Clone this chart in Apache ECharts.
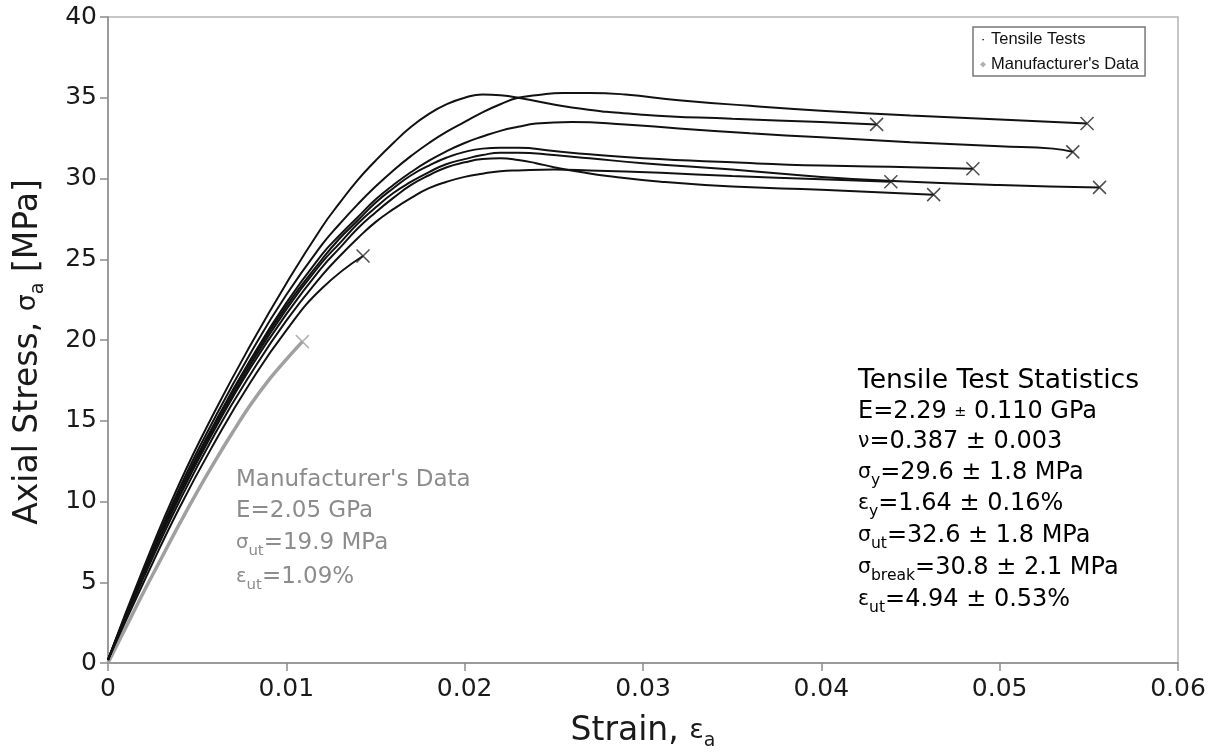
<!DOCTYPE html>
<html><head><meta charset="utf-8">
<script src="https://cdn.jsdelivr.net/npm/echarts@6/dist/echarts.min.js"></script>
<style>html,body{margin:0;padding:0;background:#fff}#c{width:1217px;height:756px}</style>
</head><body><div id="c"></div>
<script>
// ---- axis ranges / ticks ----
const strainTicks = [0, 0.01, 0.02, 0.03, 0.04, 0.05, 0.06];
const stressTicks = [0, 5, 10, 15, 20, 25, 30, 35, 40];

// ---- tensile test curves [strain, stress MPa] (last point = break) ----
const testA = [[0,0.2],[0.002,5.9],[0.004,11.1],[0.006,15.6],[0.008,19.7],[0.010,23.5],[0.012,27.0],[0.013,28.5],[0.014,29.9],[0.015,31.1],[0.016,32.2],[0.017,33.2],[0.018,34.0],[0.019,34.6],[0.020,35.0],[0.021,35.2],[0.022,35.15],[0.023,35.0],[0.026,34.4],[0.030,33.95],[0.035,33.7],[0.040,33.5],[0.0431,33.35]];
const testB = [[0,0.2],[0.002,5.7],[0.004,10.8],[0.006,15.2],[0.008,19.2],[0.010,22.8],[0.012,25.9],[0.013,27.2],[0.014,28.4],[0.015,29.5],[0.016,30.5],[0.017,31.4],[0.018,32.2],[0.019,32.9],[0.020,33.5],[0.021,34.1],[0.022,34.6],[0.023,35.0],[0.024,35.15],[0.0255,35.3],[0.027,35.3],[0.029,35.2],[0.032,34.85],[0.036,34.5],[0.040,34.2],[0.045,33.9],[0.050,33.65],[0.0549,33.4]];
const testC = [[0,0.2],[0.002,5.6],[0.004,10.6],[0.006,14.9],[0.008,18.8],[0.010,22.3],[0.012,25.3],[0.013,26.5],[0.014,27.6],[0.015,28.7],[0.016,29.6],[0.017,30.4],[0.018,31.1],[0.019,31.7],[0.020,32.2],[0.021,32.6],[0.022,32.95],[0.023,33.2],[0.024,33.4],[0.026,33.5],[0.029,33.35],[0.032,33.1],[0.036,32.8],[0.040,32.55],[0.045,32.25],[0.050,32.0],[0.053,31.85],[0.0541,31.65]];
const testD = [[0,0.2],[0.002,5.6],[0.004,10.5],[0.006,14.8],[0.008,18.7],[0.010,22.1],[0.012,25.0],[0.013,26.3],[0.014,27.4],[0.015,28.5],[0.016,29.4],[0.017,30.2],[0.018,30.8],[0.019,31.3],[0.020,31.65],[0.021,31.85],[0.022,31.9],[0.023,31.9],[0.025,31.7],[0.027,31.5],[0.030,31.25],[0.035,31.0],[0.040,30.8],[0.045,30.7],[0.0485,30.6]];
const testE = [[0,0.2],[0.002,5.5],[0.004,10.3],[0.006,14.5],[0.008,18.3],[0.010,21.6],[0.012,24.5],[0.013,25.7],[0.014,26.9],[0.015,27.9],[0.016,28.8],[0.017,29.6],[0.018,30.2],[0.019,30.7],[0.020,31.0],[0.021,31.2],[0.022,31.25],[0.023,31.15],[0.024,30.95],[0.025,30.7],[0.0265,30.4],[0.028,30.15],[0.031,29.8],[0.035,29.5],[0.040,29.3],[0.0463,29.0]];
const testF = [[0,0.2],[0.002,5.5],[0.004,10.3],[0.006,14.6],[0.008,18.5],[0.010,21.9],[0.012,24.8],[0.013,26.0],[0.014,27.2],[0.015,28.2],[0.016,29.1],[0.017,29.8],[0.018,30.4],[0.019,30.9],[0.020,31.2],[0.021,31.45],[0.022,31.6],[0.023,31.6],[0.025,31.45],[0.027,31.25],[0.030,30.95],[0.035,30.55],[0.040,30.1],[0.044,29.85],[0.050,29.6],[0.0556,29.45]];
const testG = [[0,0.2],[0.002,5.3],[0.004,10.0],[0.006,14.2],[0.008,17.9],[0.010,21.2],[0.012,24.0],[0.013,25.2],[0.014,26.3],[0.015,27.3],[0.016,28.1],[0.017,28.8],[0.018,29.4],[0.019,29.8],[0.020,30.1],[0.021,30.3],[0.022,30.45],[0.023,30.5],[0.025,30.55],[0.027,30.5],[0.031,30.35],[0.035,30.15],[0.040,29.95],[0.0439,29.8]];
const testH = [[0,0.2],[0.002,5.0],[0.004,9.6],[0.006,13.7],[0.008,17.4],[0.010,20.6],[0.012,23.2],[0.0143,25.2]];

// ---- manufacturer's data ----
const mfr = [[0,0],[0.001,2.2],[0.002,4.4],[0.003,6.5],[0.004,8.6],[0.005,10.6],[0.006,12.5],[0.007,14.3],[0.008,16.0],[0.009,17.5],[0.010,18.8],[0.0109,19.9]];

const tests = [testA, testB, testC, testD, testE, testF, testG, testH];
const TEST_NAME = 'Tensile Tests';
const MFR_NAME = "Manufacturer's Data";

// ---- annotation texts ----
const statLines = [
  '{h|Tensile Test Statistics}',
  '{t|E=2.29 }{pm|±}{t| 0.110 GPa}',
  '{g|ν}{t|=0.387 ± 0.003}',
  '{g|σ}{sub|y}{t|=29.6 ± 1.8 MPa}',
  '{g|ε}{sub|y}{t|=1.64 ± 0.16%}',
  '{g|σ}{sub|ut}{t|=32.6 ± 1.8 MPa}',
  '{g|σ}{sub|break}{t|=30.8 ± 2.1 MPa}',
  '{g|ε}{sub|ut}{t|=4.94 ± 0.53%}'
];
const mfrLines = [
  "{t|Manufacturer's Data}",
  '{t|E=2.05 GPa}',
  '{g|σ}{sub|ut}{t|=19.9 MPa}',
  '{g|ε}{sub|ut}{t|=1.09%}'
];

const FONT = 'DejaVu Sans';
function richFor(color, size) {
  return {
    h: {fontFamily: FONT, fontSize: size * 1.11, fill: color, lineHeight: 32},
    t: {fontFamily: FONT, fontSize: size, fill: color, lineHeight: 32},
    pm: {fontFamily: FONT, fontSize: size * 0.6, fill: color, lineHeight: 32},
    g: {fontFamily: FONT, fontSize: size * 0.85, fill: color, lineHeight: 32},
    sub: {fontFamily: FONT, fontSize: size * 0.65, fill: color, lineHeight: 15, verticalAlign: 'bottom'}
  };
}

const chart = echarts.init(document.getElementById('c'), null, {renderer: 'canvas'});

const series = [];
tests.forEach(function (d) {
  series.push({
    name: TEST_NAME, type: 'line', data: d, smooth: 0.5, showSymbol: false,
    lineStyle: {color: '#111', width: 2}, itemStyle: {color: '#111'}, z: 3, silent: true
  });
});
series.push({
  name: MFR_NAME, type: 'line', data: mfr, smooth: 0.4, showSymbol: false,
  lineStyle: {color: '#a0a0a0', width: 3.5}, itemStyle: {color: '#b0b0b0'}, z: 2, silent: true
});
const XSYM = 'path://M0,0L10,10M10,0L0,10';
series.push({
  name: TEST_NAME, type: 'scatter', symbol: XSYM, symbolSize: 13,
  data: tests.map(function (d) { return d[d.length - 1]; }),
  itemStyle: {color: 'none', borderColor: '#222', borderWidth: 1.5}, z: 4, silent: true
});
series.push({
  name: MFR_NAME, type: 'scatter', symbol: XSYM, symbolSize: 13,
  data: [mfr[mfr.length - 1]],
  itemStyle: {color: 'none', borderColor: '#a0a0a0', borderWidth: 1.5}, z: 4, silent: true
});

const graphics = [];
const statY = [381, 412, 442, 473, 504, 536, 568, 600];
statLines.forEach(function (s, i) {
  graphics.push({type: 'text', x: 858, y: statY[i], silent: true,
    style: {text: s, rich: richFor('#000', 24), verticalAlign: 'middle', align: 'left'}});
});
const mfrY = [480, 511, 543, 577];
mfrLines.forEach(function (s, i) {
  graphics.push({type: 'text', x: 236, y: mfrY[i], silent: true,
    style: {text: s, rich: richFor('#8c8c8c', 23), verticalAlign: 'middle', align: 'left'}});
});

const axisLineStyle = {color: '#8c8c8c', width: 1.5};
const nameRich = {
  g: {fontFamily: FONT, fontSize: 27, color: '#1a1a1a', lineHeight: 40},
  sub: {fontFamily: FONT, fontSize: 19, color: '#1a1a1a', lineHeight: 19, verticalAlign: 'bottom'}
};

chart.setOption({
  animation: false,
  backgroundColor: '#fff',
  grid: {left: 107, right: 39, top: 17, bottom: 89, show: true, borderColor: '#b4b4b4', borderWidth: 1.5, containLabel: false},
  legend: {
    orient: 'vertical', left: 973, top: 27, padding: [3, 6, 2, 7], itemGap: 6,
    itemWidth: 6, itemHeight: 6, borderColor: '#777', borderWidth: 1.5, backgroundColor: '#fff',
    textStyle: {fontFamily: 'Liberation Sans', fontSize: 16.5, color: '#111', lineHeight: 19},
    data: [
      {name: TEST_NAME, icon: 'path://M0,0M10,10M4,4h2.4v2.4h-2.4z'},
      {name: MFR_NAME, icon: 'diamond'}
    ],
    selectedMode: false
  },
  xAxis: {
    type: 'value', min: strainTicks[0], max: strainTicks[strainTicks.length - 1], interval: strainTicks[1] - strainTicks[0],
    axisLine: {lineStyle: axisLineStyle}, axisTick: {show: true, length: 8, lineStyle: axisLineStyle},
    splitLine: {show: false},
    axisLabel: {fontFamily: FONT, fontSize: 25, color: '#1a1a1a', margin: 14,
      formatter: function (v) { return v === 0 ? '0' : v.toFixed(2); }},
    name: 'Strain, {g|ε}{sub|a}', nameLocation: 'middle', nameGap: 48,
    nameTextStyle: {fontFamily: FONT, fontSize: 33, color: '#1a1a1a', lineHeight: 40, rich: nameRich}
  },
  yAxis: {
    type: 'value', min: stressTicks[0], max: stressTicks[stressTicks.length - 1], interval: stressTicks[1] - stressTicks[0],
    axisLine: {lineStyle: axisLineStyle}, axisTick: {show: true, length: 8, lineStyle: axisLineStyle},
    splitLine: {show: false},
    axisLabel: {fontFamily: FONT, fontSize: 25, color: '#1a1a1a', margin: 11},
    name: 'Axial Stress, {g|σ}{sub|a} [MPa]', nameLocation: 'middle', nameGap: 60, nameRotate: 90,
    nameTextStyle: {fontFamily: FONT, fontSize: 33, color: '#1a1a1a', lineHeight: 40, padding: [0, 24, 0, 0], rich: nameRich}
  },
  series: series,
  graphic: graphics
});
</script></body></html>
